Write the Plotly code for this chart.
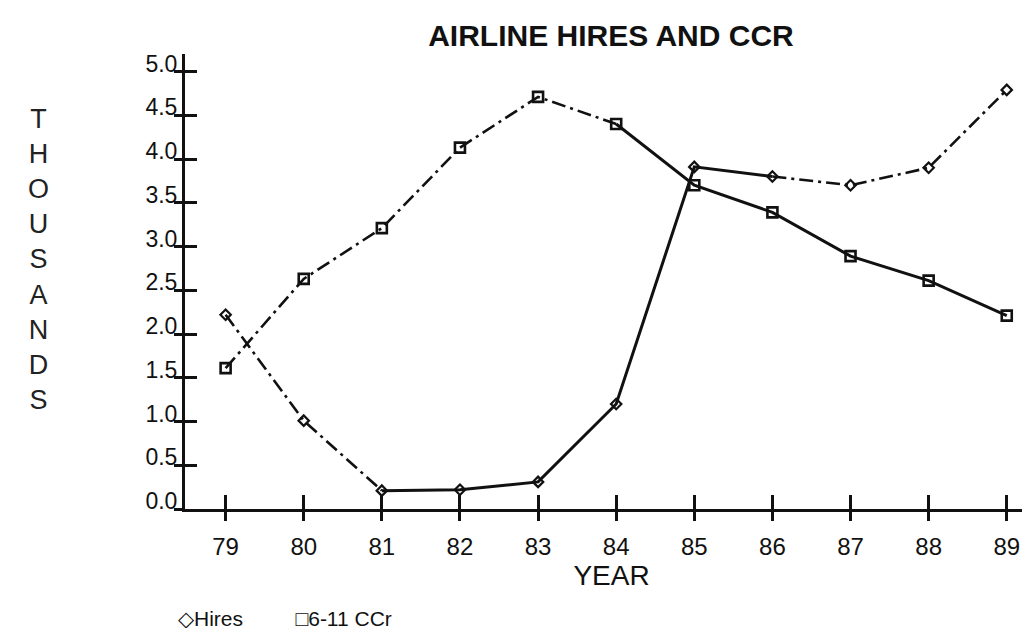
import plotly.graph_objects as go

# ---- data (thousands) ----
years = [79, 80, 81, 82, 83, 84, 85, 86, 87, 88, 89]
year_labels = ["79", "80", "81", "82", "83", "84", "85", "86", "87", "88", "89"]
hires = [2.22, 1.01, 0.21, 0.22, 0.31, 1.20, 3.91, 3.80, 3.70, 3.90, 4.79]
ccr_6_11 = [1.61, 2.63, 3.21, 4.13, 4.71, 4.40, 3.70, 3.39, 2.89, 2.61, 2.21]
y_ticks = [0.0, 0.5, 1.0, 1.5, 2.0, 2.5, 3.0, 3.5, 4.0, 4.5, 5.0]
y_tick_labels = ["0.0", "0.5", "1.0", "1.5", "2.0", "2.5", "3.0", "3.5", "4.0", "4.5", "5.0"]

INK = "#111111"
FONT = "Liberation Sans"
DASHDOT = "14px,5px,3px,5px"

fig = go.Figure()

def add_segment(xs, ys, dash, width=2.6):
    fig.add_trace(go.Scatter(x=xs, y=ys, mode="lines",
                             line=dict(color=INK, width=width, dash=dash),
                             showlegend=False, hoverinfo="skip"))

# Hires line segments (style varies along the line in the original)
add_segment(years[0:3], hires[0:3], DASHDOT)
add_segment(years[2:8], hires[2:8], "solid", 3)
add_segment(years[7:11], hires[7:11], DASHDOT)
# 6-11 CCr line segments
add_segment(years[0:6], ccr_6_11[0:6], DASHDOT)
add_segment(years[5:11], ccr_6_11[5:11], "solid", 3)

fig.add_trace(go.Scatter(x=years, y=hires, mode="markers", name="Hires",
                         marker=dict(symbol="diamond-open", size=8, color=INK,
                                     line=dict(width=2.2, color=INK)),
                         showlegend=False))
fig.add_trace(go.Scatter(x=years, y=ccr_6_11, mode="markers", name="6-11 CCr",
                         marker=dict(symbol="square-open", size=10, color=INK,
                                     line=dict(width=2.6, color=INK)),
                         showlegend=False))

# invisible trace on overlay axes (for crossing tick marks)
fig.add_trace(go.Scatter(x=years, y=hires, xaxis="x2", yaxis="y2", mode="markers",
                         marker=dict(opacity=0), showlegend=False, hoverinfo="skip"))

XR = [78.48, 89.40]
YR = [0, 5.2]

fig.update_layout(
    width=1030, height=628,
    margin=dict(l=177, r=0, t=46, b=127),
    paper_bgcolor="white", plot_bgcolor="white",
    font=dict(family=FONT, color=INK),
    title=dict(text="<b>AIRLINE HIRES AND CCR</b>", x=603 / 1030, xanchor="center",
               y=1 - 27 / 628, yanchor="middle",
               font=dict(family=FONT, size=30, color=INK)),
    xaxis=dict(range=XR, tickmode="array", tickvals=years, ticktext=year_labels,
               showgrid=False, zeroline=False, showline=True, linecolor=INK, linewidth=3,
               ticks="inside", ticklen=14, tickwidth=2.5, tickcolor=INK,
               ticklabelstandoff=14,
               tickfont=dict(family=FONT, size=24, color=INK),
               title=dict(text="YEAR", standoff=6, font=dict(family=FONT, size=28, color=INK))),
    yaxis=dict(range=YR, tickmode="array", tickvals=y_ticks, ticktext=y_tick_labels,
               showgrid=False, zeroline=False, showline=True, linecolor=INK, linewidth=3,
               ticks="inside", ticklen=12, tickwidth=2.5, tickcolor=INK,
               ticklabelshift=-8,
               tickfont=dict(family=FONT, size=23, color=INK)),
    xaxis2=dict(range=XR, overlaying="x", side="bottom", tickmode="array", tickvals=years,
                showticklabels=False, showgrid=False, zeroline=False, showline=False,
                ticks="outside", ticklen=11, tickwidth=2.5, tickcolor=INK),
    yaxis2=dict(range=YR, overlaying="y", side="left", tickmode="array", tickvals=y_ticks,
                showticklabels=False, showgrid=False, zeroline=False, showline=False,
                ticks="outside", ticklen=10, tickwidth=2.5, tickcolor=INK),
)

# vertical stacked y-axis title
fig.add_annotation(text="<br>".join("THOUSANDS"), xref="paper", yref="paper",
                   x=(30 - 177) / 857, y=(501 - 251.5) / 455,
                   xanchor="center", yanchor="middle", showarrow=False, align="center",
                   font=dict(family=FONT, size=27, color="#222222"))

# legend line at bottom-left
fig.add_annotation(text="◇Hires" + "\u00a0" * 9 + "□6-11 CCr", xref="paper", yref="paper",
                   x=(168 - 177) / 853, y=(501 - 610) / 455,
                   xanchor="left", yanchor="middle", showarrow=False,
                   font=dict(family=FONT, size=21, color=INK))

fig.write_html("out.html")
